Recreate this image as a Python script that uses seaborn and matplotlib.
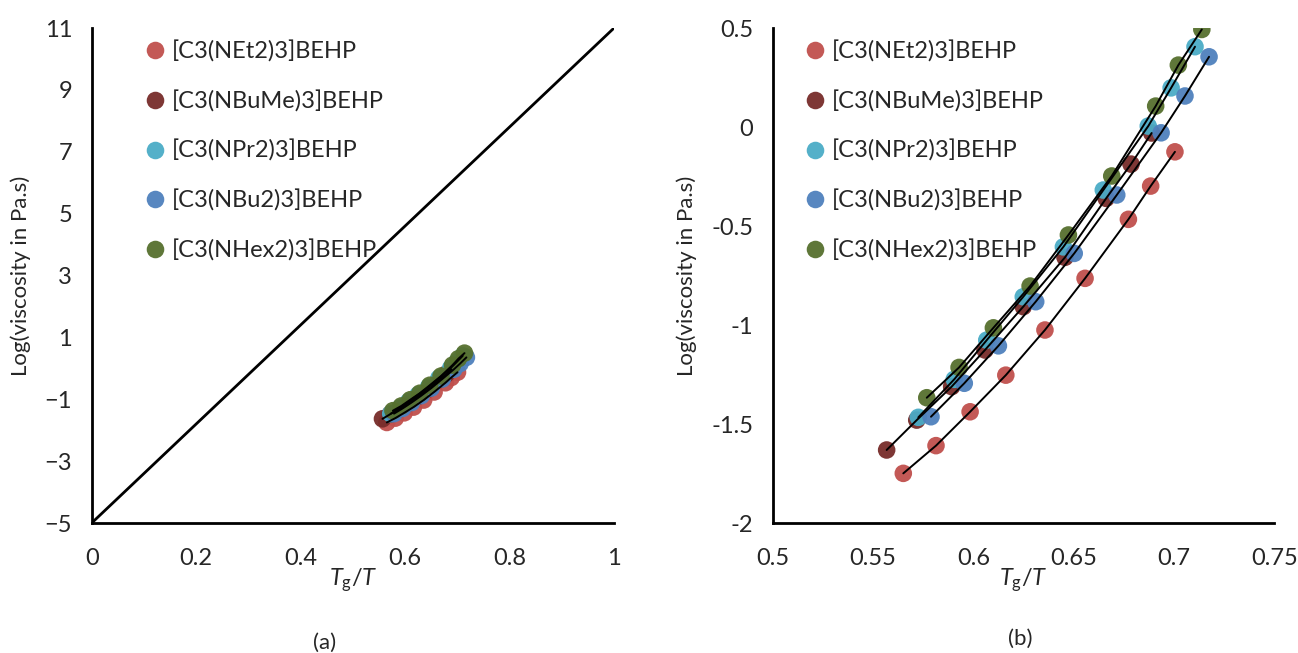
import pandas as pd
import seaborn as sns
import matplotlib.pyplot as plt

# series names and colours (Excel-style palette)
names = ['[C3(NEt2)3]BEHP', '[C3(NBuMe)3]BEHP', '[C3(NPr2)3]BEHP',
         '[C3(NBu2)3]BEHP', '[C3(NHex2)3]BEHP']
colors = ['#C0504D', '#772C2A', '#4BACC6', '#4F81BD', '#56702E']

# Tg/T and log(viscosity)
net2_x = [0.5651, 0.5814, 0.5984, 0.6162, 0.6357, 0.6557, 0.6773, 0.6884, 0.7005]
net2_y = [-1.749, -1.609, -1.438, -1.253, -1.025, -0.764, -0.466, -0.298, -0.125]

nbume_x = [0.5568, 0.5718, 0.5892, 0.6058, 0.6249, 0.6457, 0.6662, 0.6786, 0.6889]
nbume_y = [-1.631, -1.480, -1.311, -1.126, -0.907, -0.658, -0.360, -0.187, -0.030]

npr2_x = [0.5726, 0.5905, 0.6067, 0.6249, 0.6449, 0.6648, 0.6872, 0.6986, 0.7105]
npr2_y = [-1.466, -1.274, -1.076, -0.857, -0.605, -0.318, 0.005, 0.198, 0.406]

nbu2_x = [0.5789, 0.5955, 0.6125, 0.6311, 0.6503, 0.6715, 0.6936, 0.7055, 0.7175]
nbu2_y = [-1.463, -1.294, -1.105, -0.882, -0.638, -0.343, -0.029, 0.157, 0.355]

nhex2_x = [0.5768, 0.5929, 0.6100, 0.6283, 0.6474, 0.6690, 0.6909, 0.7022, 0.7139]
nhex2_y = [-1.367, -1.214, -1.014, -0.803, -0.545, -0.247, 0.106, 0.313, 0.493]

# strong-glass reference line in panel (a)
ref_x = [0, 1]
ref_y = [-5, 11]

xs = [net2_x, nbume_x, npr2_x, nbu2_x, nhex2_x]
ys = [net2_y, nbume_y, npr2_y, nbu2_y, nhex2_y]
frames = []
for n, x, y in zip(names, xs, ys):
    frames.append(pd.DataFrame({'TgT': x, 'logeta': y, 'IL': n}))
df = pd.concat(frames, ignore_index=True)

sns.set_style('white')
plt.rcParams['font.family'] = ['Lato', 'DejaVu Sans']
plt.rcParams['mathtext.fontset'] = 'custom'
plt.rcParams['mathtext.it'] = 'Lato:italic'
plt.rcParams['mathtext.rm'] = 'Lato'

fig = plt.figure(figsize=(12.98, 6.53), dpi=100)
ax_a = fig.add_axes([0.0706, 0.199, 0.4024, 0.758])
ax_b = fig.add_axes([0.5953, 0.199, 0.3864, 0.758])

pal = dict(zip(names, colors))


def draw(ax, legend_x):
    sns.scatterplot(data=df, x='TgT', y='logeta', hue='IL', palette=pal,
                    s=160, edgecolor='none', alpha=0.95, ax=ax, zorder=2)
    sns.lineplot(data=df, x='TgT', y='logeta', units='IL', estimator=None,
                 color='black', lw=1.4, ax=ax, legend=False, zorder=3)
    h, l = ax.get_legend_handles_labels()
    ax.legend(h, l, loc='upper left', bbox_to_anchor=(legend_x, 0.994),
              frameon=False, fontsize=17, labelspacing=1.17,
              handletextpad=-0.3, borderaxespad=0, markerscale=1.0)
    for sp in ['top', 'right']:
        ax.spines[sp].set_visible(False)
    for sp in ['left', 'bottom']:
        ax.spines[sp].set_color('black')
        ax.spines[sp].set_linewidth(2)
    ax.tick_params(axis='both', direction='out', length=6, width=2,
                   color='black', labelsize=17)
    ax.tick_params(axis='x', pad=12)
    ax.tick_params(axis='y', pad=8)
    ax.set_xlabel('$T_\\mathrm{g}/T$', fontsize=17, labelpad=-2)
    ax.set_ylabel('Log(viscosity in Pa.s)', fontsize=16, labelpad=10)


# panel (a)
sns.lineplot(x=ref_x, y=ref_y, color='black', lw=2, ax=ax_a, zorder=1)
draw(ax_a, 0.058)
ax_a.set_xlim(0, 1)
ax_a.set_ylim(-5, 11)
ax_a.set_xticks([0, 0.2, 0.4, 0.6, 0.8, 1])
ax_a.set_xticklabels(['0', '0.2', '0.4', '0.6', '0.8', '1'])
ax_a.set_yticks(range(-5, 12, 2))

# panel (b)
draw(ax_b, 0.019)
ax_b.set_xlim(0.5, 0.75)
ax_b.set_ylim(-2, 0.5)
ax_b.set_xticks([0.5, 0.55, 0.6, 0.65, 0.7, 0.75])
ax_b.set_xticklabels(['0.5', '0.55', '0.6', '0.65', '0.7', '0.75'])
ax_b.set_yticks([-2, -1.5, -1, -0.5, 0, 0.5])
ax_b.set_yticklabels(['-2', '-1.5', '-1', '-0.5', '0', '0.5'])

fig.text(0.2504, 0.006, '(a)', ha='center', fontsize=16)
fig.text(0.786, 0.012, '(b)', ha='center', fontsize=16)

fig.savefig('out.png', dpi=100)
